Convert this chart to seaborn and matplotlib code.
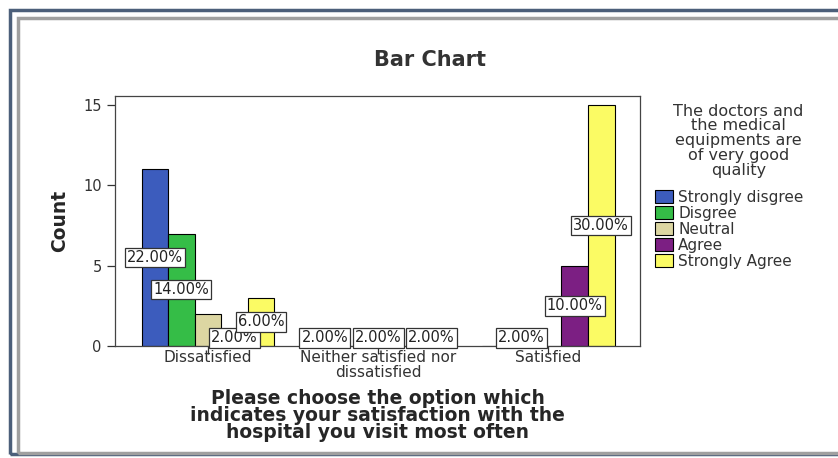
import pandas as pd
import matplotlib.pyplot as plt
import seaborn as sns

# Data
categories = ['Dissatisfied', 'Neither satisfied nor\ndissatisfied', 'Satisfied']
responses = ['Strongly disgree', 'Disgree', 'Neutral', 'Agree', 'Strongly Agree']
counts = {
    'Strongly disgree': [11, 1, 0],
    'Disgree': [7, 0, 1],
    'Neutral': [2, 1, 0],
    'Agree': [1, 0, 5],
    'Strongly Agree': [3, 1, 15],
}
# percentage labels as shown on the chart ('' = not visible)
pct_labels = {
    'Strongly disgree': ['22.00%', '2.00%', ''],
    'Disgree': ['14.00%', '', '2.00%'],
    'Neutral': ['', '2.00%', ''],
    'Agree': ['2.00%', '', '10.00%'],
    'Strongly Agree': ['6.00%', '2.00%', '30.00%'],
}
colors = ['#3c5cbd', '#35bd47', '#dcd6a2', '#7c1f83', '#fbfb64']
legend_title = 'The doctors and\nthe medical\nequipments are\nof very good\nquality'
x_title = 'Please choose the option which\nindicates your satisfaction with the\nhospital you visit most often'

rows = []
for r in responses:
    for c, v in zip(categories, counts[r]):
        rows.append({'category': c, 'response': r, 'count': v})
df = pd.DataFrame(rows)

sns.set_style('white')
plt.rcParams['font.family'] = ['DejaVu Sans']

fig = plt.figure(figsize=(8.38, 4.58), dpi=100)
ax = fig.add_axes([0.137, 0.2445, 0.627, 0.5455])

sns.barplot(data=df, x='category', y='count', hue='response', order=categories,
            hue_order=responses, palette=colors, width=0.78, edgecolor='black',
            linewidth=0.8, saturation=1, ax=ax)

# percentage labels in the middle of each bar
z = 5
for cont, r in zip(ax.containers, responses):
    for bar, lab in zip(cont, pct_labels[r]):
        if not lab:
            continue
        ax.text(bar.get_x() + bar.get_width() / 2, bar.get_height() / 2, lab,
                ha='center', va='center', fontsize=10.5, color='#222222', zorder=z,
                bbox=dict(boxstyle='square,pad=0.15', fc='white', ec='#333333', lw=0.9))
        z += 1

ax.set_xlim(-0.547, 2.541)
ax.set_ylim(0, 15.55)
ax.set_yticks([0, 5, 10, 15])
ax.tick_params(axis='both', direction='out', length=6, width=0.9, color='#333333',
               labelsize=10.5, labelcolor='#333333', bottom=True, left=True)
ax.tick_params(axis='x', pad=-3, labelsize=11)
for t in ax.get_xticklabels():
    t.set_linespacing(0.95)
for s in ax.spines.values():
    s.set_color('#444444')
    s.set_linewidth(0.9)
ax.set_ylabel('Count', fontsize=13.5, fontweight='bold', labelpad=10)
ax.set_xlabel(x_title, fontsize=13.5, fontweight='bold', labelpad=7, linespacing=0.85)

# legend, with its title drawn separately so its spacing can be set
leg = ax.legend(loc='upper left', bbox_to_anchor=(0.782, 0.586),
                bbox_transform=fig.transFigure, frameon=False, fontsize=11,
                handlelength=1.15, handleheight=0.9, handletextpad=0.35,
                labelspacing=0.07, borderaxespad=0, borderpad=0)
for t in leg.get_texts():
    t.set_color('#333333')
fig.text(0.881, 0.774, legend_title, ha='center', va='top', fontsize=11.5,
         color='#333333', linespacing=0.98, multialignment='center')

fig.text(0.513, 0.868, 'Bar Chart', ha='center', va='center', fontsize=15,
         fontweight='bold', color='#333333')

# screenshot-style window border
fig.add_artist(plt.Rectangle((0.0115, 0.008), 1.2, 0.97, transform=fig.transFigure,
                             fill=False, ec='#4c5f7a', lw=2.5))
fig.add_artist(plt.Rectangle((0.021, 0.012), 1.2, 0.948, transform=fig.transFigure,
                             fill=False, ec='#a0a0a0', lw=2.5))

plt.savefig('out.png', dpi=100)
